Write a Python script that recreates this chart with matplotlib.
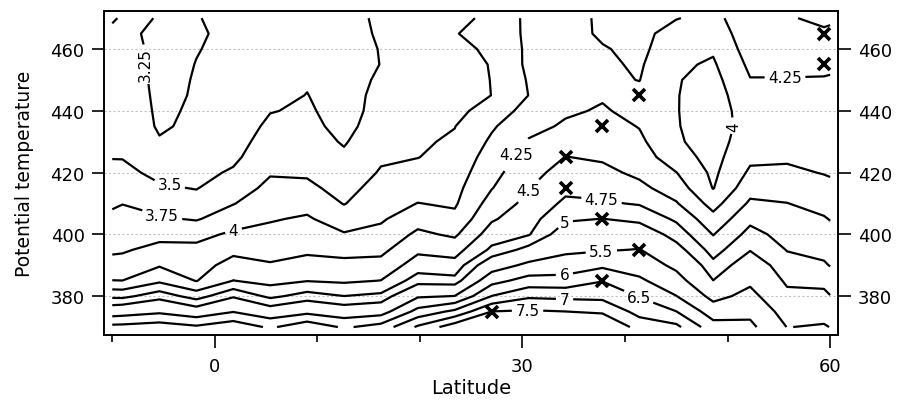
import numpy as np
import matplotlib.pyplot as plt
from matplotlib.ticker import FixedLocator

# grid
lat = [-10, -9, -5.4, -1.8, 1.8, 5.4, 9, 12.6, 16.2, 19.8, 23.4, 27,
       30.6, 34.2, 37.8, 41.4, 45, 48.6, 52.2, 55.8, 59.4, 60]
theta = list(range(370, 471, 5))

# one list per latitude, values from 370 K up to 470 K
cols = [
    [6.14, 5.22, 4.69, 4.255, 4.09, 3.96, 3.88, 3.80, 3.72, 3.64, 3.57, 3.49, 3.47, 3.44, 3.41, 3.38, 3.35, 3.33, 3.30, 3.27, 3.24],
    [6.15, 5.26, 4.68, 4.252, 4.10, 3.97, 3.90, 3.82, 3.745, 3.65, 3.56, 3.49, 3.46, 3.44, 3.41, 3.38, 3.36, 3.33, 3.31, 3.28, 3.26],
    [6.25, 5.41, 4.89, 4.45, 4.23, 4.08, 3.92, 3.78, 3.65, 3.53, 3.44, 3.36, 3.27, 3.22, 3.21, 3.205, 3.20, 3.20, 3.21, 3.22, 3.248],
    [6.08, 5.17, 4.64, 4.24, 4.15, 4.06, 3.93, 3.73, 3.59, 3.49, 3.43, 3.38, 3.34, 3.30, 3.28, 3.265, 3.26, 3.253, 3.245, 3.24, 3.245],
    [6.33, 5.48, 4.96, 4.505, 4.34, 4.19, 4.04, 3.88, 3.74, 3.63, 3.53, 3.45, 3.40, 3.36, 3.33, 3.31, 3.30, 3.29, 3.28, 3.27, 3.28],
    [5.92, 5.17, 4.69, 4.42, 4.27, 4.17, 4.07, 3.98, 3.89, 3.81, 3.73, 3.67, 3.61, 3.55, 3.49, 3.44, 3.40, 3.37, 3.34, 3.32, 3.31],
    [6.35, 5.36, 4.85, 4.49, 4.33, 4.21, 4.12, 4.03, 3.92, 3.80, 3.72, 3.66, 3.60, 3.555, 3.53, 3.505, 3.48, 3.46, 3.44, 3.42, 3.41],
    [5.93, 5.19, 4.752, 4.46, 4.32, 4.17, 4.02, 3.87, 3.74, 3.67, 3.61, 3.54, 3.48, 3.44, 3.41, 3.40, 3.39, 3.39, 3.40, 3.42, 3.44],
    [6.2, 5.28, 4.81, 4.505, 4.33, 4.19, 4.07, 3.97, 3.90, 3.84, 3.77, 3.72, 3.66, 3.60, 3.58, 3.57, 3.54, 3.505, 3.51, 3.525, 3.53],
    [7.08, 6.17, 5.44, 4.875, 4.62, 4.45, 4.30, 4.15, 4.005, 3.91, 3.83, 3.745, 3.72, 3.69, 3.67, 3.65, 3.64, 3.63, 3.62, 3.62, 3.62],
    [7.8, 6.62, 5.51, 4.83, 4.59, 4.40, 4.21, 4.06, 3.97, 3.93, 3.88, 3.83, 3.78, 3.745, 3.68, 3.66, 3.66, 3.67, 3.72, 3.745, 3.69],
    [8.0, 7.51, 6.51, 5.83, 5.25, 4.80, 4.62, 4.47, 4.35, 4.24, 4.17, 4.11, 4.04, 3.97, 3.86, 3.752, 3.755, 3.76, 3.77, 3.79, 3.80],
    [8.1, 7.56, 6.92, 6.19, 5.61, 5.10, 4.73, 4.65, 4.57, 4.49, 4.42, 4.34, 4.27, 4.18, 4.09, 4.003, 4.02, 4.05, 4.05, 4.06, 4.06],
    [8.1, 7.505, 6.88, 6.18, 5.72, 5.41, 5.18, 4.96, 4.80, 4.69, 4.59, 4.505, 4.39, 4.28, 4.22, 4.19, 4.17, 4.16, 4.16, 4.17, 4.18],
    [8.08, 7.42, 6.86, 6.48, 5.90, 5.46, 5.23, 5.005, 4.78, 4.66, 4.56, 4.47, 4.40, 4.34, 4.27, 4.23, 4.21, 4.21, 4.235, 4.28, 4.28],
    [7.3, 6.83, 6.47, 6.08, 5.78, 5.52, 5.21, 4.93, 4.73, 4.56, 4.45, 4.38, 4.30, 4.24, 4.19, 4.19, 4.255, 4.28, 4.30, 4.32, 4.33],
    [7.12, 6.51, 6.01, 5.69, 5.39, 5.11, 4.89, 4.71, 4.52, 4.38, 4.255, 4.10, 4.03, 4.015, 4.01, 4.01, 4.015, 4.04, 4.12, 4.153, 4.26],
    [6.2, 5.75, 5.36, 5.005, 4.82, 4.65, 4.49, 4.33, 4.16, 3.99, 3.95, 3.92, 3.90, 3.88, 3.88, 3.89, 3.92, 3.97, 4.03, 4.1, 4.18],
    [6.11, 5.88, 5.64, 5.41, 5.19, 4.985, 4.83, 4.69, 4.54, 4.41, 4.29, 4.2, 4.13, 4.10, 4.12, 4.17, 4.24, 4.30, 4.36, 4.40, 4.41],
    [5.49, 5.31, 5.09, 4.94, 4.84, 4.74, 4.66, 4.58, 4.505, 4.40, 4.29, 4.22, 4.17, 4.15, 4.15, 4.18, 4.24, 4.30, 4.35, 4.42, 4.47],
    [5.55, 5.31, 5.08, 4.91, 4.78, 4.68, 4.60, 4.52, 4.42, 4.32, 4.24, 4.19, 4.16, 4.15, 4.16, 4.19, 4.235, 4.30, 4.37, 4.45, 4.57],
    [5.49, 5.25, 5.01, 4.87, 4.74, 4.66, 4.57, 4.49, 4.40, 4.30, 4.23, 4.18, 4.16, 4.15, 4.16, 4.19, 4.23, 4.29, 4.37, 4.44, 4.55],
]

levels = [3.25, 3.5, 3.75, 4, 4.25, 4.5, 4.75, 5, 5.5, 6, 6.5, 7, 7.5]

# x markers
cross_lat = [27, 37.8, 41.4, 37.8, 34.2, 34.2, 37.8, 41.4, 59.4, 59.4]
cross_theta = [375, 385, 395, 405, 415, 425, 435, 445, 455, 465]

# where the contour labels sit
label_pos = [(-7.3, 455), (-4.5, 414.7), (-5.2, 405), (1.8, 401.5),
             (29.9, 424.6), (30.5, 414.4), (37.7, 410.6), (34.1, 403.9),
             (37.7, 394.2), (34.1, 386.1), (41.3, 379.6), (34.1, 378.6),
             (30.5, 374.8), (50.7, 435.2), (55.6, 450.8)]
upright = [0, 13]  # labels written along a vertical line

z = np.array(cols).T

plt.rcParams['font.family'] = 'DejaVu Sans'
fig = plt.figure(figsize=(8.97, 4.02), dpi=100)
ax = fig.add_axes([0.116, 0.164, 0.8186, 0.806])

cs = ax.contour(lat, theta, z, levels=levels, colors='black', linewidths=1.6)
labels = ax.clabel(cs, levels, inline=True, fmt='%g', fontsize=11,
                   manual=label_pos, inline_spacing=4)
for i, t in enumerate(labels):
    t.set_rotation(90 if i in upright else 0)

ax.plot(cross_lat, cross_theta, linestyle='none', marker='x', color='black',
        markersize=8, markeredgewidth=2.6)

ax.set_xlim(-10.8, 60.8)
ax.set_ylim(367.4, 472.3)
ax.set_xticks([0, 30, 60])
ax.xaxis.set_minor_locator(FixedLocator([-10, 10, 20, 40, 50]))
ax.set_yticks([380, 400, 420, 440, 460])

ax.tick_params(axis='x', which='major', length=9, width=1.2, pad=7, labelsize=13)
ax.tick_params(axis='x', which='minor', length=5, width=1.2)
ax.tick_params(axis='y', which='major', length=9, width=1.2, pad=5, labelsize=13,
               left=True, right=True, labelleft=True, labelright=True)

ax.yaxis.grid(True, linestyle=(0, (2, 2)), color='#c4c4c4', linewidth=0.8)
ax.set_axisbelow(True)
for s in ax.spines.values():
    s.set_linewidth(1.4)

ax.set_xlabel('Latitude', fontsize=14, labelpad=2)
ax.set_ylabel('Potential temperature', fontsize=13.5, labelpad=12)

fig.savefig('out.png', dpi=100)
